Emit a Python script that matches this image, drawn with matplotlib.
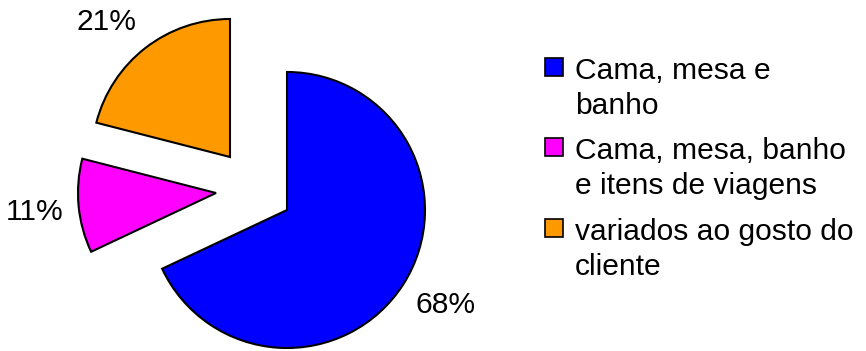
import matplotlib
matplotlib.use('Agg')
import matplotlib.pyplot as plt
from matplotlib.patches import Rectangle

plt.rcParams['font.family'] = ['Liberation Sans', 'DejaVu Sans']

# shares of each product mix (percent)
categories = ['Cama, mesa e\nbanho',
              'Cama, mesa, banho\ne itens de viagens',
              'variados ao gosto do\ncliente']
values = [68, 11, 21]
colors = ['#0000FF', '#FF00FF', '#FF9900']

# layout in pixel units (y measured upward)
W, H = 866, 351
pie_center = (287, 141)
pie_radius = 138
slice_centers = [(287, 141), (216, 158), (230, 194)]
label_pos = [(446, 46), (35, 139), (107, 329)]
legend_x = 545
legend_rows = [272, 192, 111]  # baseline of first line of each entry
line_step = 35
fsize = 21.6

fig = plt.figure(figsize=(W / 100, H / 100), dpi=100)
fig.patch.set_facecolor('white')
ax = fig.add_axes([0, 0, 1, 1])

wedges, _ = ax.pie(values, colors=colors, startangle=90, counterclock=False,
                   radius=pie_radius, center=pie_center, frame=True,
                   wedgeprops=dict(edgecolor='black', linewidth=1.5))
ax.set_xlim(0, W)
ax.set_ylim(0, H)
ax.set_aspect('equal')
ax.axis('off')

# pull the two smaller slices away from the main one
for w, c in zip(wedges, slice_centers):
    w.set_center(c)

for v, (x, y) in zip(values, label_pos):
    ax.text(x, y, f'{v}%', ha='center', va='center', fontsize=fsize, color='black')

# legend: square marker next to the first line of each label
for lab, col, yb in zip(categories, colors, legend_rows):
    ax.add_patch(Rectangle((legend_x, yb + 3), 18, 18, facecolor=col,
                           edgecolor='black', linewidth=1.2, clip_on=False))
    for i, line in enumerate(lab.split('\n')):
        ax.text(legend_x + 30, yb - i * line_step, line, ha='left', va='baseline',
                fontsize=fsize, color='black')

fig.savefig('out.png', dpi=100, facecolor=fig.get_facecolor())
plt.close(fig)
